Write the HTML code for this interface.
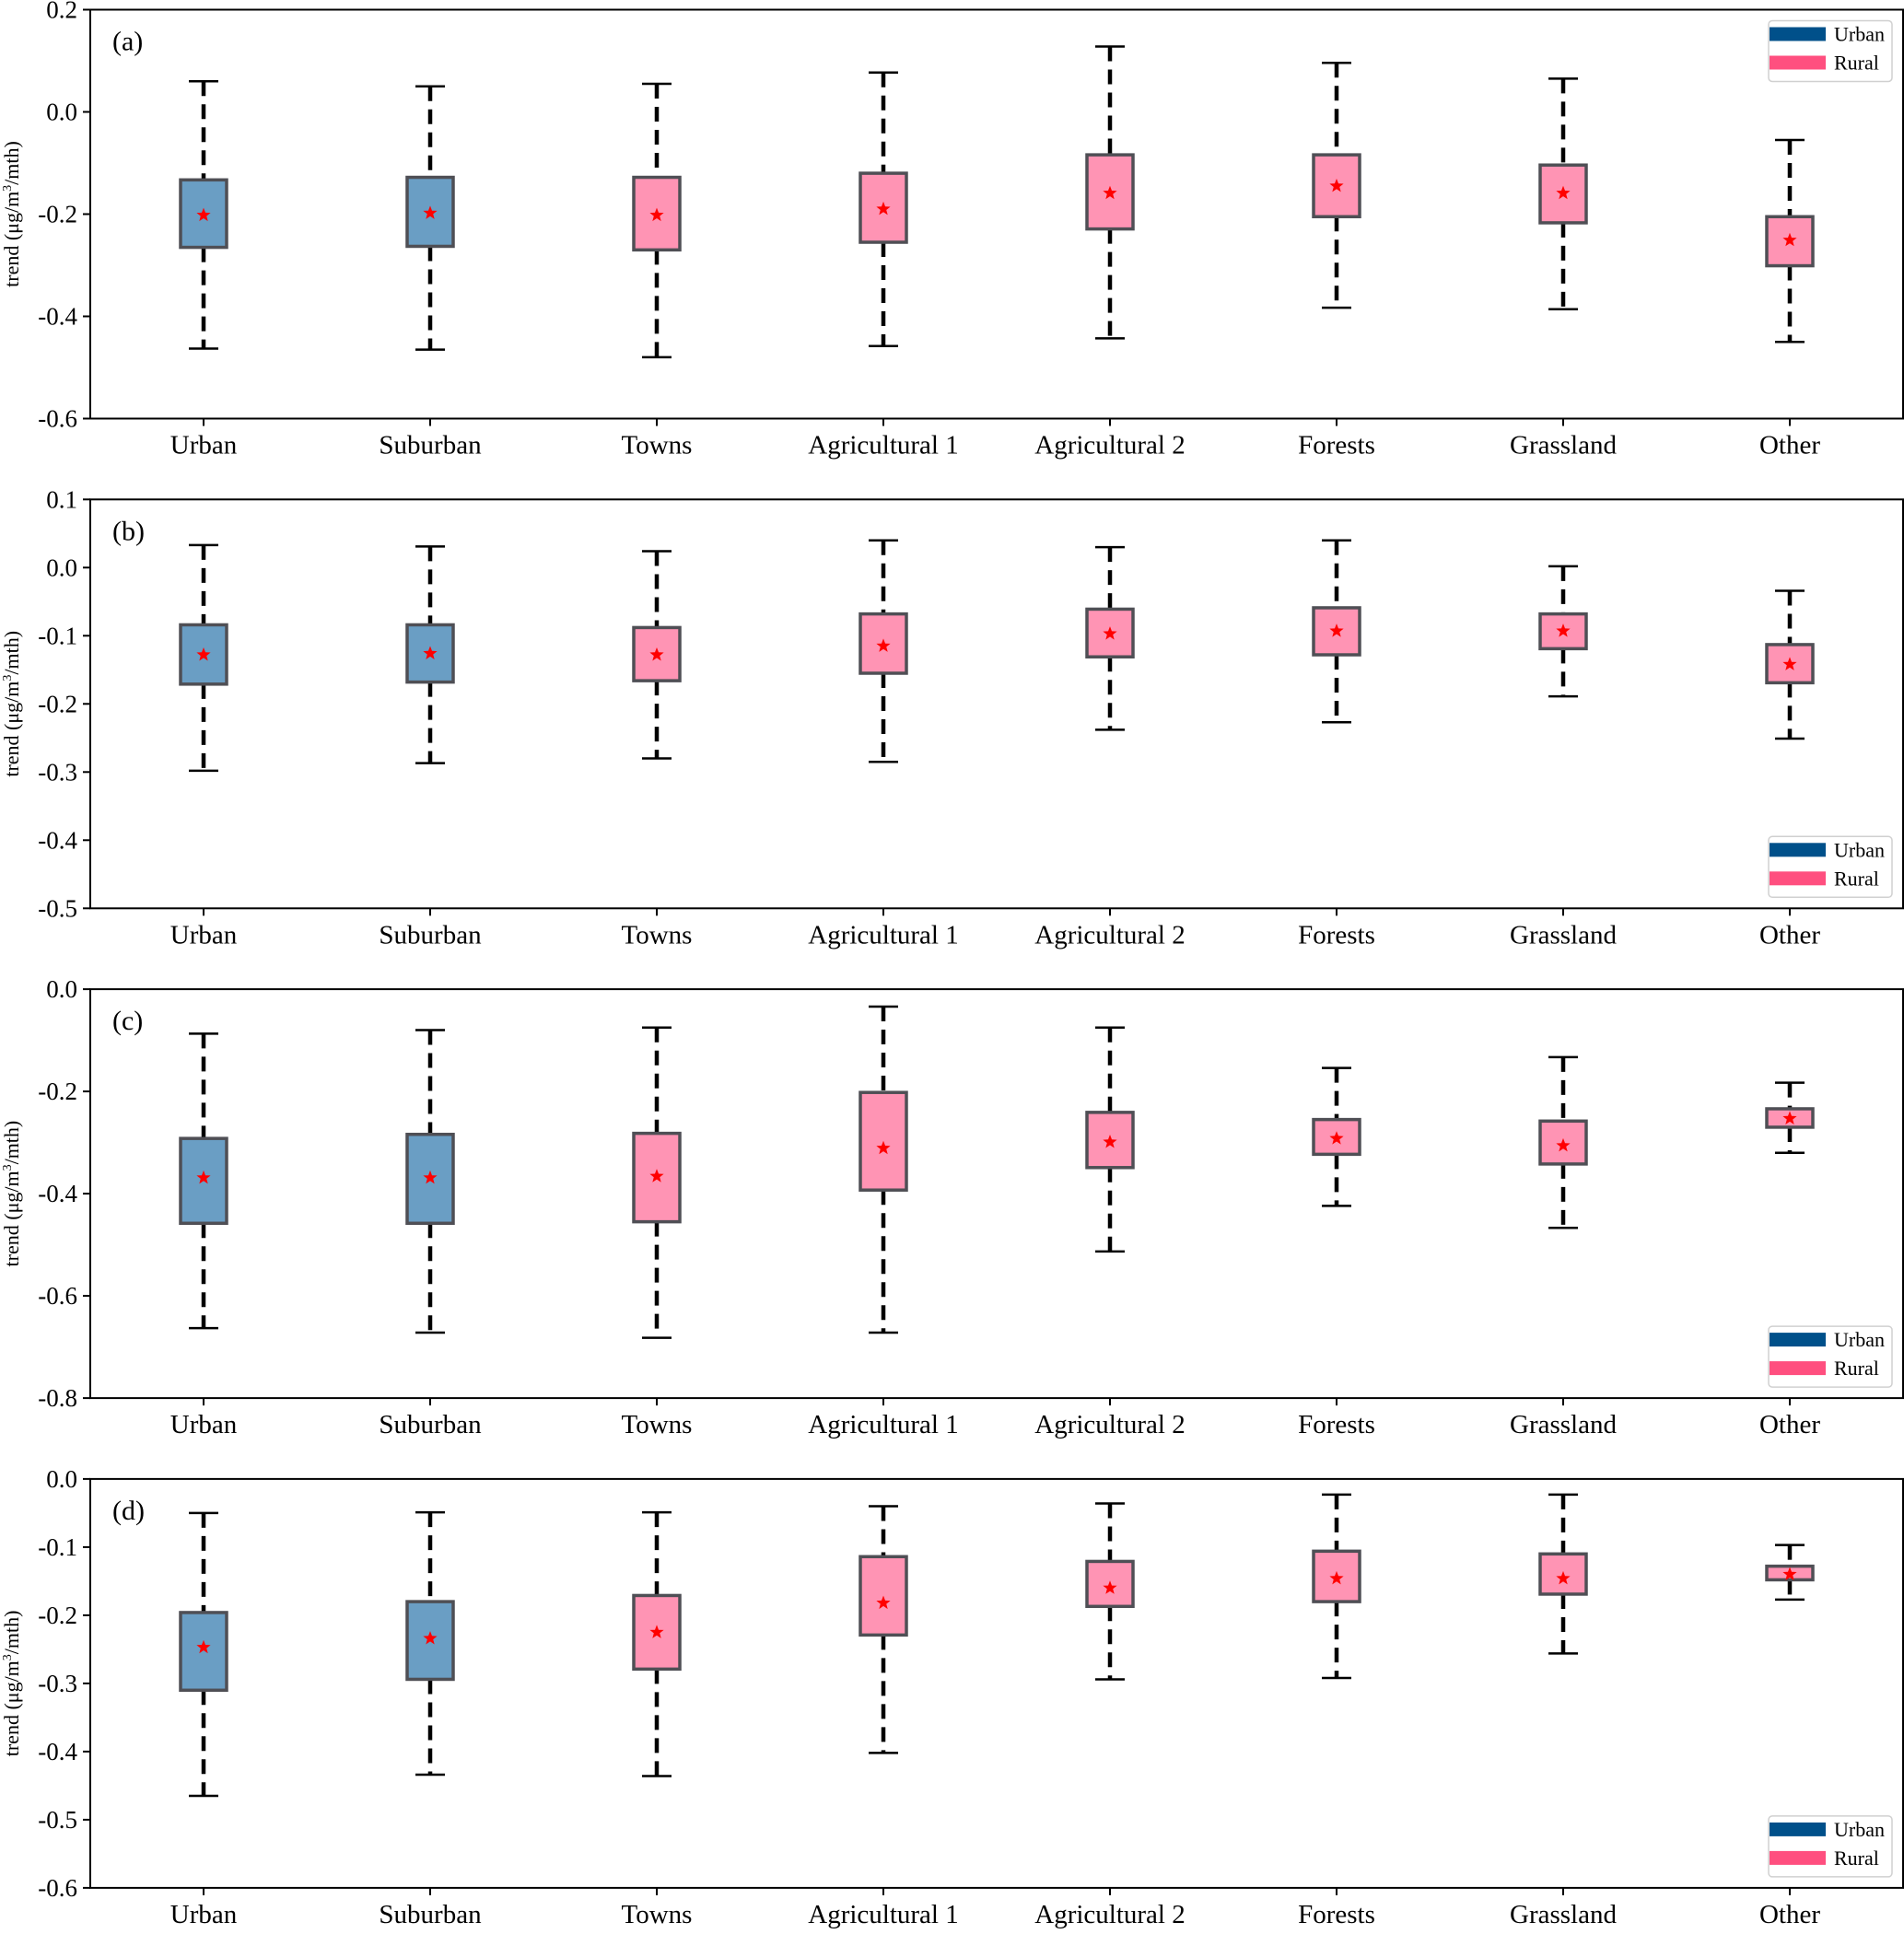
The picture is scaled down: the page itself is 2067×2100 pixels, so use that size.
<!DOCTYPE html>
<html><head><meta charset="utf-8"><style>
html,body{margin:0;padding:0;background:#fff;}
svg text{font-family:"Liberation Serif",serif;}
</style></head><body>
<svg id="chart" width="2067" height="2095" viewBox="0 0 2067 2095" xmlns="http://www.w3.org/2000/svg"></svg>
<script>
const categories = ["Urban","Suburban","Towns","Agricultural 1","Agricultural 2","Forests","Grassland","Other"];
const panelLabels = ["(a)","(b)","(c)","(d)"];
const isUrban = [true,true,false,false,false,false,false,false];
// per panel: whisker low, q1, median, q3, whisker high
const aLow = [-0.463,-0.465,-0.48,-0.458,-0.443,-0.383,-0.386,-0.45];
const aQ1 = [-0.265,-0.263,-0.27,-0.255,-0.229,-0.205,-0.217,-0.301];
const aMed = [-0.202,-0.198,-0.202,-0.19,-0.159,-0.145,-0.159,-0.251];
const aQ3 = [-0.133,-0.128,-0.128,-0.12,-0.084,-0.084,-0.104,-0.205];
const aHigh = [0.06,0.05,0.055,0.077,0.128,0.096,0.065,-0.055];
const bLow = [-0.298,-0.287,-0.28,-0.285,-0.238,-0.227,-0.189,-0.251];
const bQ1 = [-0.171,-0.168,-0.166,-0.155,-0.131,-0.128,-0.119,-0.169];
const bMed = [-0.128,-0.126,-0.128,-0.115,-0.097,-0.093,-0.093,-0.142];
const bQ3 = [-0.084,-0.084,-0.088,-0.068,-0.061,-0.059,-0.068,-0.113];
const bHigh = [0.033,0.031,0.024,0.04,0.03,0.04,0.002,-0.034];
const cLow = [-0.663,-0.672,-0.682,-0.672,-0.513,-0.424,-0.467,-0.32];
const cQ1 = [-0.458,-0.458,-0.455,-0.393,-0.349,-0.323,-0.342,-0.27];
const cMed = [-0.369,-0.369,-0.366,-0.311,-0.299,-0.292,-0.306,-0.253];
const cQ3 = [-0.292,-0.284,-0.282,-0.202,-0.241,-0.255,-0.258,-0.234];
const cHigh = [-0.087,-0.08,-0.075,-0.034,-0.075,-0.154,-0.133,-0.183];
const dLow = [-0.465,-0.434,-0.436,-0.402,-0.294,-0.292,-0.256,-0.177];
const dQ1 = [-0.31,-0.294,-0.279,-0.229,-0.187,-0.18,-0.169,-0.148];
const dMed = [-0.247,-0.234,-0.225,-0.182,-0.16,-0.146,-0.146,-0.14];
const dQ3 = [-0.196,-0.18,-0.171,-0.114,-0.121,-0.106,-0.11,-0.128];
const dHigh = [-0.05,-0.049,-0.049,-0.04,-0.036,-0.023,-0.023,-0.097];
const aTicks = [0.2,0.0,-0.2,-0.4,-0.6];
const bTicks = [0.1,0.0,-0.1,-0.2,-0.3,-0.4,-0.5];
const cTicks = [0.0,-0.2,-0.4,-0.6,-0.8];
const dTicks = [0.0,-0.1,-0.2,-0.3,-0.4,-0.5,-0.6];
const yMax = [0.2,0.1,0.0,0.0];
const yMin = [-0.6,-0.5,-0.8,-0.6];

const panels = [
 {low:aLow,q1:aQ1,med:aMed,q3:aQ3,high:aHigh,ticks:aTicks,legendTop:true},
 {low:bLow,q1:bQ1,med:bMed,q3:bQ3,high:bHigh,ticks:bTicks,legendTop:false},
 {low:cLow,q1:cQ1,med:cMed,q3:cQ3,high:cHigh,ticks:cTicks,legendTop:false},
 {low:dLow,q1:dQ1,med:dMed,q3:dQ3,high:dHigh,ticks:dTicks,legendTop:false}
];
const NS="http://www.w3.org/2000/svg";
const svg=document.getElementById('chart');
function mk(tag,attrs,parent){const e=document.createElementNS(NS,tag);for(const k in attrs)e.setAttribute(k,attrs[k]);(parent||svg).appendChild(e);return e;}
const L=98,R=2066,H=444,step=(R-L)/categories.length;
function starPts(cx,cy,r){let p=[];for(let i=0;i<10;i++){const rr=i%2?r*0.42:r;const a=-Math.PI/2+i*Math.PI/5;p.push((cx+rr*Math.cos(a)).toFixed(1)+','+(cy+rr*Math.sin(a)).toFixed(1));}return p.join(' ');}
panels.forEach((p,pi)=>{
  const top=10.5+531.8*pi, bot=top+H;
  const y=v=>top+(yMax[pi]-v)/(yMax[pi]-yMin[pi])*H;
  const x=i=>L+step*(i+0.5);
  const g=mk('g',{});
  
  
  p.ticks.forEach(t=>{
    const yy=y(t);
    const tl=mk('line',{x1:L-8,x2:L,y1:yy,y2:yy,stroke:'#000','stroke-width':2},g);
    
    
    const tx=mk('text',{x:L-14,y:yy+9,'text-anchor':'end','font-size':27},g);
    
    
    tx.textContent=t.toFixed(1);
  });
  const yl=mk('text',{transform:`translate(20,${top+H/2}) rotate(-90)`,'text-anchor':'middle','font-size':22},g);
  
  
  yl.innerHTML='trend (μg/m<tspan font-size="14" dy="-8">3</tspan><tspan dy="8">/mth)</tspan>';
  categories.forEach((c,i)=>{
    const cx=x(i);
    const bg=mk('g',{},g);
    
    
    [[p.high[i],p.q3[i]],[p.q1[i],p.low[i]]].forEach(([a,b])=>{
      const w=mk('line',{x1:cx,x2:cx,y1:y(a),y2:y(b),stroke:'#000','stroke-width':4.5,'stroke-dasharray':'16,9'},bg);
      
      
    });
    [p.high[i],p.low[i]].forEach(v=>{
      const cp=mk('line',{x1:cx-16,x2:cx+16,y1:y(v),y2:y(v),stroke:'#000','stroke-width':2.5},bg);
      
      
    });
    const rc=mk('rect',{x:cx-25,y:y(p.q3[i]),width:50,height:y(p.q1[i])-y(p.q3[i]),fill:isUrban[i]?'#6a9ec4':'#ff94b4',stroke:'#4f4f55','stroke-width':3.5},bg);
    
    
    const st=mk('polygon',{points:starPts(cx,y(p.med[i]),8),fill:'#ff0000'},bg);
    
    
    const xt=mk('line',{x1:cx,x2:cx,y1:bot,y2:bot+8,stroke:'#000','stroke-width':2},g);
    
    
    const xl=mk('text',{x:cx,y:bot+38,'text-anchor':'middle','font-size':29},g);
    
    
    xl.textContent=c;
  });
  const fr=mk('rect',{x:L,y:top,width:R-L,height:H,fill:'none',stroke:'#000','stroke-width':2},g);
  
  
  const pl=mk('text',{x:122,y:top+44,'font-size':30},g);
  
  
  pl.textContent=panelLabels[pi];
  const ly=p.legendTop?top+12:bot-78;
  const lg=mk('g',{},g);
  
  
  mk('rect',{x:1920,y:ly,width:134,height:66,rx:4,fill:'#fff',stroke:'#d0d0d0','stroke-width':1.5},lg);
  [['Urban','#00508a'],['Rural','#ff4f7f']].forEach(([nm,col],k)=>{
    const e=mk('g',{},lg);
    
    
    mk('rect',{x:1921,y:ly+7+k*31,width:61,height:15,fill:col},e);
    const t=mk('text',{x:1991,y:ly+22+k*31,'font-size':22},e);
    t.textContent=nm;
  });
});
</script>
</body></html>
